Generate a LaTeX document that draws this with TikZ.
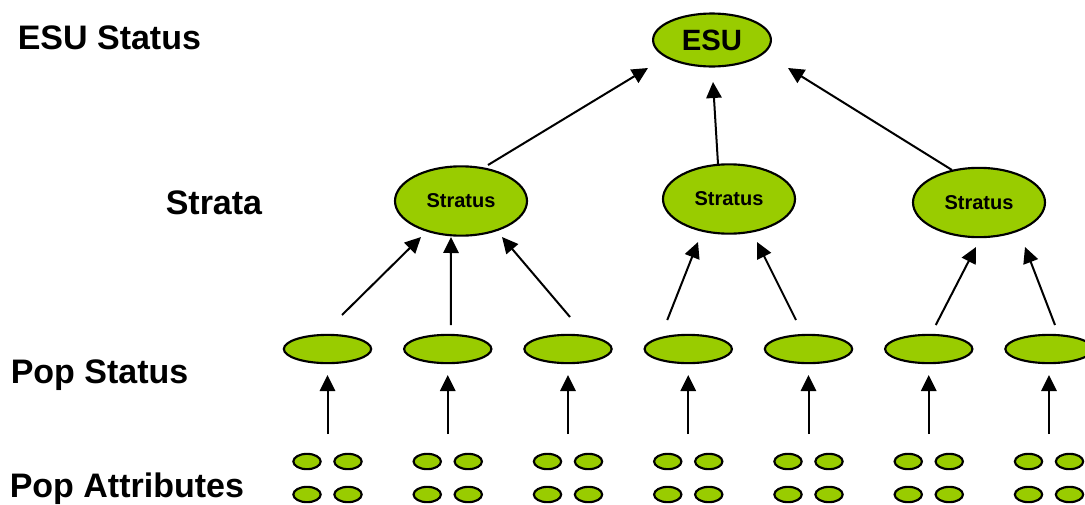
\documentclass[tikz,border=0pt]{standalone}
\usepackage{fontspec}
\setmainfont{Liberation Sans}
\usepackage{tikz}
\usetikzlibrary{shapes.geometric}
\usetikzlibrary{calc}
\usetikzlibrary{arrows.meta}
\definecolor{leaf}{RGB}{153,204,0}
\tikzset{
  blob/.style={ellipse, draw=black, fill=leaf, line width=1.6pt, inner sep=0pt},
  stratus/.style={blob, minimum width=99pt, minimum height=52pt, font=\fontsize{15}{18}\selectfont\bfseries},
  pop/.style={blob, minimum width=65.5pt, minimum height=21.2pt},
  attr/.style={blob, minimum width=20.5pt, minimum height=11.5pt},
  level/.style={anchor=base west, inner sep=0pt, font=\fontsize{25.5}{30}\selectfont\bfseries},
  up/.style={-{Triangle[length=12pt,width=11.5pt]}, line width=1.5pt},
}

\begin{document}
\begin{tikzpicture}[x=0.75pt, y=-0.75pt]
    \useasboundingbox (0,0) rectangle (1085,504);
    \clip (0,0) rectangle (1085,504);

    % row labels
    \node[level] at (17.5, 49) (LabelEsu)    {ESU Status};
    \node[level] at (165.5,214) (LabelStrata) {Strata};
    \node[level] at (10.5, 383) (LabelPop)    {Pop Status};
    \node[level] at (9.5,  497) (LabelAttr)   {Pop Attributes};

    \node[blob, minimum width=88.4pt, minimum height=39.7pt, font=\fontsize{22}{26}\selectfont\bfseries] at (712,40) (ESU) {ESU};

    \node[stratus] at (461,201)   (Stratus1) {Stratus};
    \node[stratus] at (729,199)   (Stratus2) {Stratus};
    \node[stratus] at (979,202.5) (Stratus3) {Stratus};

    % populations with their four attributes
    \foreach \i in {1,...,7} {
        \pgfmathsetmacro{\px}{327.5+120.25*(\i-1)}
        \node[pop] at (\px,349) (Pop\i) {};
        \foreach \dx/\dy/\k in {-20.5/461.5/a, 20.5/461.5/b, -20.5/494.5/c, 20.5/494.5/d}
            \node[attr] at ({\px+\dx},\dy) (Attr\i\k) {};
        \draw[up] ($(Pop\i)+(0,85)$) -- ($(Pop\i)+(0,26)$);
    }

    \draw[up] ($(Pop1)+(14.5,-34)$)  -- ($(Stratus1)+(-40,36)$);
    \draw[up] ($(Pop2)+(3,-24)$)     -- ($(Stratus1)+(-10,36)$);
    \draw[up] ($(Pop3)+(2,-32)$)     -- ($(Stratus1)+(41,36)$);
    \draw[up] ($(Pop4)+(-21,-29)$)   -- ($(Stratus2)+(-31,43)$);
    \draw[up] ($(Pop5)+(-12.5,-29)$) -- ($(Stratus2)+(28,43)$);
    \draw[up] ($(Pop6)+(7,-24)$)     -- ($(Stratus3)+(-3,44.5)$);
    \draw[up] ($(Pop7)+(6,-24)$)     -- ($(Stratus3)+(46,44.5)$);

    \draw[up] ($(Stratus1)+(27,-36)$)    -- ($(ESU)+(-64,28)$);
    \draw[up] ($(Stratus2)+(-11,-35)$)   -- ($(ESU)+(1,42)$);
    \draw[up] ($(Stratus3)+(-27,-32.5)$) -- ($(ESU)+(76,28)$);
\end{tikzpicture}
\end{document}
